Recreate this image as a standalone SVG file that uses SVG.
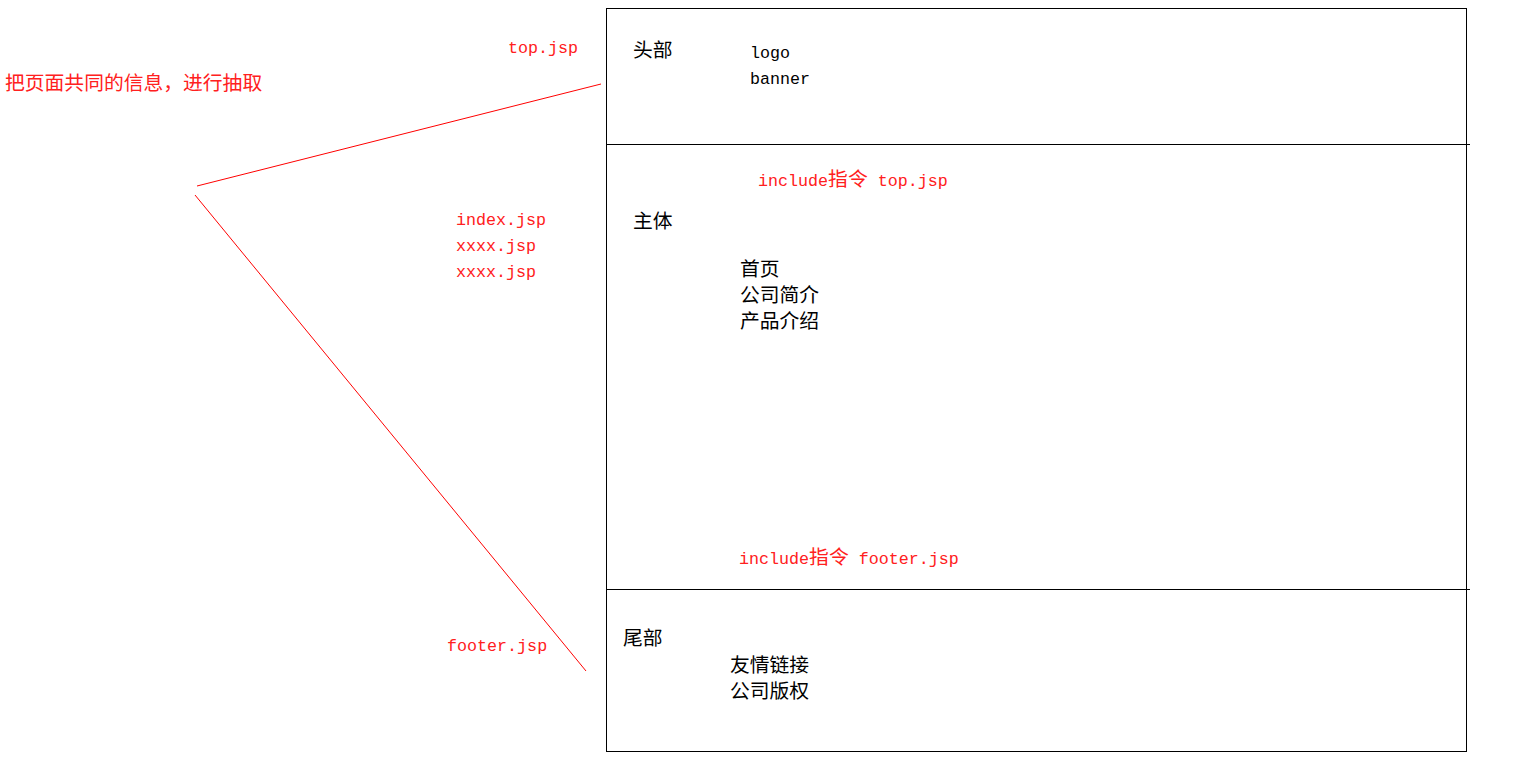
<svg xmlns="http://www.w3.org/2000/svg" width="1524" height="760" viewBox="0 0 1524 760">
<style>
.r{fill:#ff2020;font-family:"Liberation Mono","Noto Sans CJK SC",monospace;font-size:16.7px}
.k{fill:#000;font-family:"Noto Sans CJK SC",sans-serif;font-size:19.8px}
.m{fill:#000;font-family:"Liberation Mono","Noto Sans CJK SC",monospace;font-size:16.7px}
.c{font-family:"Noto Sans CJK SC",sans-serif;font-size:19.8px}
.box{fill:none;stroke:#000;stroke-width:1}
.cn{fill:none;stroke:#ff0000;stroke-width:1}
</style>
<rect width="1524" height="760" fill="#fff"/>
<g id="page">
<rect class="box" x="606.5" y="8.5" width="860" height="743"/>
<line class="box" x1="606" y1="144.5" x2="1470" y2="144.5"/>
<line class="box" x1="606" y1="589.5" x2="1470" y2="589.5"/>
</g>
<g id="title"><text class="r c" x="5" y="90">把页面共同的信息，进行抽取</text></g>
<g id="header">
<text class="r" x="508" y="53">top.jsp</text>
<text class="k" x="633" y="57">头部</text>
<text class="m" x="750" y="58">logo</text>
<text class="m" x="750" y="84">banner</text>
</g>
<g id="body">
<text class="r" x="758" y="186">include<tspan class="c">指令</tspan> top.jsp</text>
<text class="k" x="633" y="228">主体</text>
<text class="r" x="456" y="225">index.jsp</text>
<text class="r" x="456" y="251">xxxx.jsp</text>
<text class="r" x="456" y="277">xxxx.jsp</text>
<text class="k" x="740" y="276">首页</text>
<text class="k" x="740" y="302">公司简介</text>
<text class="k" x="740" y="328">产品介绍</text>
<text class="r" x="739" y="564">include<tspan class="c">指令</tspan> footer.jsp</text>
</g>
<g id="footer">
<text class="r" x="447" y="651">footer.jsp</text>
<text class="k" x="623" y="645">尾部</text>
<text class="k" x="730" y="672">友情链接</text>
<text class="k" x="730" y="698">公司版权</text>
</g>
<g id="connectors">
<line class="cn" x1="197" y1="186" x2="601" y2="84"/>
<line class="cn" x1="195" y1="195" x2="586" y2="671"/>
</g>
</svg>
